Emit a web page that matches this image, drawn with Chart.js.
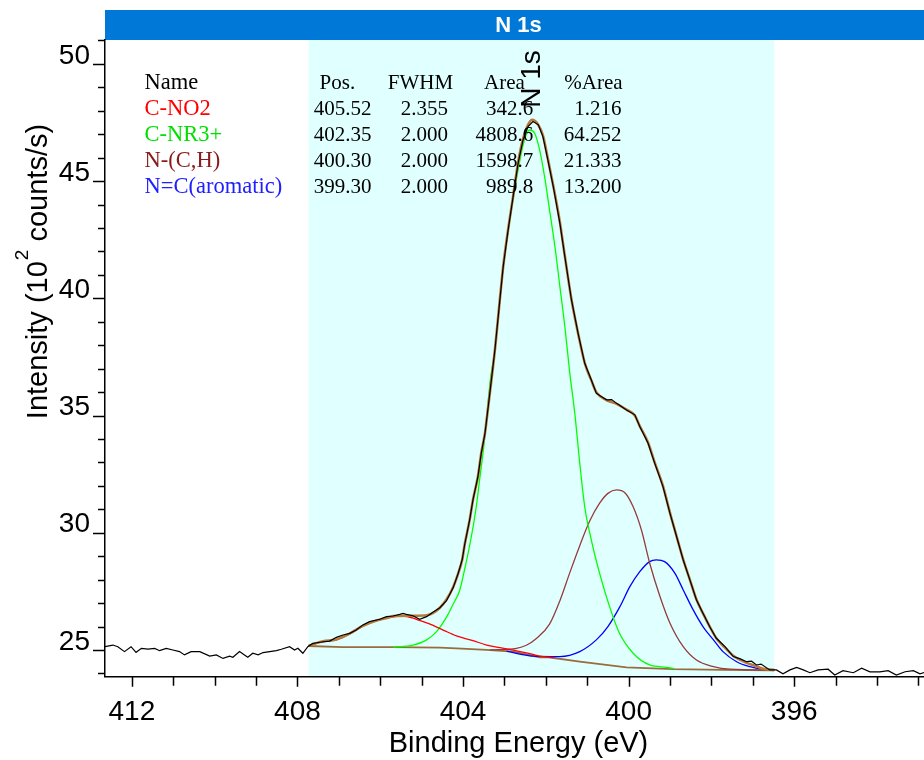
<!DOCTYPE html>
<html>
<head>
<meta charset="utf-8">
<script src="https://cdn.jsdelivr.net/npm/chart.js@4.4.1/dist/chart.umd.min.js"></script>
<style>
  html, body { margin: 0; padding: 0; background: #fff; overflow: hidden; width: 924px; height: 760px; }
  canvas { display: block; }
</style>
</head>
<body>
<canvas id="xps" width="932" height="760"></canvas>
<script>
// ---- N 1s spectrum: measured counts (10^2 counts/s) vs binding energy (eV)
const rawEnergy = [412.65,412.46,412.34,412.18,412.02,411.90,411.77,411.61,411.45,411.33,411.17,411.01,410.85,410.73,410.57,410.36,410.12,409.96,409.80,409.64,409.56,409.40,409.28,409.20,409.08,408.95,408.83,408.67,408.51,408.39,408.19,408.07,407.99,407.87,407.75,407.63,407.46,407.22,407.06,406.90,406.74,406.58,406.42,406.26,406.01,405.85,405.69,405.53,405.45,405.37,405.21,405.05,404.88,404.72,404.56,404.40,404.24,404.12,404.02,403.96,403.84,403.76,403.64,403.56,403.47,403.39,403.23,403.03,402.91,402.79,402.67,402.55,402.43,402.31,402.18,402.07,401.95,401.82,401.66,401.54,401.38,401.22,401.06,400.90,400.78,400.65,400.53,400.41,400.29,400.05,399.85,399.73,399.53,399.37,399.17,399.00,398.84,398.68,398.52,398.36,398.20,398.04,397.88,397.67,397.47,397.30,397.15,397.03,396.91,396.80,396.59,396.43,396.27,396.10,395.94,395.78,395.62,395.42,395.18,395.02,394.82,394.57,394.37,394.17,393.93,393.73,393.53,393.32,393.12,392.96,392.80,392.67];
const rawCounts = [25.14,25.21,25.14,24.93,25.14,24.90,25.07,25.04,25.07,24.97,25.07,25.00,24.93,24.79,24.93,24.93,24.74,24.79,24.64,24.74,24.69,24.93,24.79,24.69,24.86,24.79,24.89,24.93,24.97,25.03,25.14,25.00,25.07,24.86,25.14,25.28,25.33,25.38,25.54,25.64,25.71,25.85,26.07,26.21,26.31,26.42,26.45,26.52,26.56,26.52,26.46,26.31,26.42,26.62,26.80,27.10,27.65,28.25,28.85,29.50,30.55,31.40,32.39,33.39,34.24,35.40,37.80,41.35,42.92,44.34,45.76,46.76,47.33,47.54,47.40,46.90,45.90,44.77,43.20,41.78,39.93,38.51,37.23,36.52,35.95,35.80,35.67,35.68,35.52,35.24,35.03,34.53,33.82,32.97,31.97,30.83,29.83,28.84,27.99,27.13,26.56,25.99,25.50,25.14,24.72,24.62,24.50,24.52,24.36,24.40,24.15,24.15,23.98,24.15,24.26,24.15,24.03,24.15,24.18,23.93,24.12,24.03,24.22,24.07,24.07,24.12,23.93,24.07,24.12,23.98,24.07,24.05];

// fitted envelope
const envEnergy = [407.73,407.38,407.06,406.74,406.42,406.09,405.77,405.69,405.20,404.88,404.72,404.56,404.40,404.24,404.12,404.02,403.96,403.84,403.76,403.64,403.56,403.47,403.39,403.23,403.03,402.91,402.79,402.67,402.55,402.43,402.33,402.20,402.07,401.95,401.82,401.66,401.54,401.38,401.22,401.06,400.90,400.78,400.53,400.29,400.05,399.85,399.73,399.53,399.37,399.17,399.00,398.84,398.68,398.52,398.36,398.20,398.04,397.88,397.67,397.47,397.15,396.91,396.75,396.48];
const envCounts = [25.18,25.37,25.45,25.70,26.03,26.26,26.40,26.45,26.46,26.48,26.58,26.80,27.15,27.68,28.25,28.85,29.50,30.55,31.40,32.40,33.40,34.25,35.40,37.80,41.35,42.95,44.35,45.80,46.80,47.40,47.62,47.45,46.95,45.95,44.80,43.25,41.80,39.95,38.50,37.25,36.50,36.00,35.65,35.50,35.25,35.00,34.55,33.85,33.00,32.00,30.85,29.85,28.85,28.00,27.15,26.55,26.00,25.50,25.10,24.75,24.45,24.30,24.20,24.15];

// Shirley background
const bgEnergy = [407.73,406.90,405.69,404.56,404.16,403.43,402.79,402.15,401.98,401.18,400.05,398.92,397.72,396.48];
const bgCounts = [25.17,25.12,25.12,25.10,25.07,25.00,24.93,24.69,24.70,24.50,24.26,24.18,24.15,24.13];

// component C-NO2
const no2Energy = [407.73,407.38,407.06,406.74,406.42,406.09,405.77,405.45,405.13,404.81,404.48,404.16,403.76,403.43,403.11,402.79,402.47,402.15,401.80];
const no2Counts = [25.19,25.36,25.43,25.68,26.02,26.25,26.39,26.45,26.31,26.11,25.85,25.60,25.40,25.21,25.10,24.99,24.88,24.74,24.68];

// component C-NR3+
const nr3Energy = [405.69,405.21,404.88,404.64,404.40,404.24,404.08,403.96,403.80,403.68,403.60,403.50,403.42,403.34,403.23,403.03,402.79,402.63,402.51,402.39,402.27,402.15,402.03,401.91,401.78,401.66,401.54,401.42,401.30,401.18,401.06,400.90,400.70,400.46,400.22,399.89,399.49,399.08,398.90];
const nr3Counts = [25.12,25.21,25.43,25.78,26.40,26.95,27.55,28.45,29.83,31.11,32.25,33.67,35.10,36.52,37.80,41.30,44.25,45.85,46.80,47.18,47.04,46.33,45.19,43.77,42.21,40.50,38.79,36.80,35.10,32.97,31.11,29.69,28.27,26.85,25.71,24.86,24.36,24.26,24.20];

// component N-(C,H)
const nchEnergy = [403.35,402.71,402.47,402.22,401.91,401.66,401.42,401.18,400.94,400.70,400.50,400.29,400.09,399.89,399.69,399.49,399.24,399.00,398.68,398.36,397.95,397.55,396.48];
const nchCounts = [25.00,25.07,25.20,25.50,26.10,27.10,28.30,29.45,30.50,31.26,31.68,31.83,31.71,31.11,30.12,28.70,27.27,26.14,25.14,24.57,24.29,24.18,24.14];

// component N=C(aromatic)
const ncEnergy = [402.95,402.31,401.66,401.18,400.78,400.50,400.21,399.97,399.73,399.49,399.33,399.13,398.88,398.68,398.44,398.20,397.95,397.72,397.39,397.07,396.75,396.48];
const ncCounts = [24.95,24.74,24.72,24.93,25.43,26.00,26.85,27.70,28.34,28.77,28.84,28.77,28.27,27.56,26.71,25.99,25.43,24.93,24.50,24.29,24.18,24.15];

// fit table
const peakNames = ['C-NO2', 'C-NR3+', 'N-(C,H)', 'N=C(aromatic)'];
const peakPos = [405.52, 402.35, 400.30, 399.30];
const peakFwhm = [2.355, 2.000, 2.000, 2.000];
const peakArea = [342.6, 4808.6, 1598.7, 989.8];
const peakPctArea = [1.216, 64.252, 21.333, 13.200];

// fitting region and axis ranges
const regionStart = 407.73, regionEnd = 396.48;
const xMin = 392.67, xMax = 412.65;
const yMin = 23.86, yMax = 51.02;
const regionTitle = 'N 1s';

const FONT_SANS = "'Liberation Sans', Arial, sans-serif";
const FONT_SERIF = "'Liberation Serif', 'Times New Roman', serif";
const nameColors = ['#ff0000', '#00e000', '#8b1a1a', '#2020ff'];

const zip = (xs, ys) => xs.map((x, i) => ({ x, y: ys[i] }));

const lineSet = (data, color, width, smooth) => ({
  data, borderColor: color, borderWidth: width, pointRadius: 0, fill: false,
  tension: 0, cubicInterpolationMode: smooth ? 'monotone' : 'default'
});

const decor = {
  id: 'decor',
  beforeDraw(chart) {
    const { ctx, chartArea: a, scales: { x } } = chart;
    const x0 = x.getPixelForValue(regionStart), x1 = x.getPixelForValue(regionEnd);
    ctx.save();
    ctx.fillStyle = '#e0ffff';
    ctx.fillRect(Math.min(x0, x1), a.top, Math.abs(x1 - x0), a.bottom - a.top);
    // title bar
    ctx.fillStyle = '#0078d7';
    ctx.fillRect(a.left, 10, a.right - a.left, 30);
    ctx.fillStyle = '#fff';
    ctx.font = `bold 22px ${FONT_SANS}`;
    ctx.textAlign = 'center';
    ctx.textBaseline = 'middle';
    ctx.fillText(regionTitle, (a.left + a.right) / 2, 26);
    ctx.restore();
  },
  afterDraw(chart) {
    const { ctx, chartArea: a, scales: { x, y } } = chart;
    ctx.save();
    ctx.strokeStyle = '#000';
    ctx.lineWidth = 1.5;
    ctx.beginPath();
    y.ticks.forEach(t => {
      const py = Math.round(y.getPixelForValue(t.value)) + 0.5;
      const len = t.value % 5 === 0 ? 12 : 7;
      ctx.moveTo(a.left - len, py); ctx.lineTo(a.left, py);
    });
    x.ticks.forEach(t => {
      const px = Math.round(x.getPixelForValue(t.value)) + 0.5;
      const len = t.value % 4 === 0 ? 10 : 9;
      ctx.moveTo(px, a.bottom); ctx.lineTo(px, a.bottom + len);
    });
    ctx.stroke();

    // y axis title with superscript
    ctx.translate(46.5, 272);
    ctx.rotate(-Math.PI / 2);
    ctx.fillStyle = '#000';
    ctx.textBaseline = 'alphabetic';
    ctx.textAlign = 'left';
    const p1 = 'Intensity (10', p2 = '2', p3 = ' counts/s)';
    ctx.font = `29px ${FONT_SANS}`;
    const w1 = ctx.measureText(p1).width, w3 = ctx.measureText(p3).width;
    ctx.font = `19px ${FONT_SANS}`;
    const w2 = ctx.measureText(p2).width;
    const sx = -(w1 + w2 + w3) / 2;
    ctx.font = `29px ${FONT_SANS}`;
    ctx.fillText(p1, sx, 0);
    ctx.font = `19px ${FONT_SANS}`;
    ctx.fillText(p2, sx + w1 + 1, -19);
    ctx.font = `29px ${FONT_SANS}`;
    ctx.fillText(p3, sx + w1 + w2 + 1, 0);
    ctx.restore();

    // rotated peak label above the envelope maximum
    const iMax = envCounts.indexOf(Math.max(...envCounts));
    ctx.save();
    ctx.translate(x.getPixelForValue(envEnergy[iMax]), y.getPixelForValue(envCounts[iMax]) - 12);
    ctx.rotate(-Math.PI / 2);
    ctx.font = `28px ${FONT_SANS}`;
    ctx.fillStyle = '#000';
    ctx.textAlign = 'left';
    ctx.textBaseline = 'middle';
    ctx.fillText(regionTitle, 0, 0);
    ctx.restore();

    // fit parameter table
    ctx.save();
    ctx.textBaseline = 'middle';
    ctx.fillStyle = '#000';
    const hy = 83, dy = 26;
    const nameFont = `22.5px ${FONT_SERIF}`, numFont = `21px ${FONT_SERIF}`;
    ctx.textAlign = 'left';
    ctx.font = nameFont;
    ctx.fillText('Name', 144.6, hy);
    ctx.font = numFont;
    ctx.fillText('Pos.', 319.6, hy);
    ctx.fillText('Area', 484, hy);
    ctx.fillText('%Area', 564.3, hy);
    ctx.textAlign = 'center';
    ctx.fillText('FWHM', 420.5, hy);
    peakNames.forEach((n, i) => {
      const ry = hy + dy * (i + 1);
      ctx.textAlign = 'left';
      ctx.font = nameFont;
      ctx.fillStyle = nameColors[i];
      ctx.fillText(n, 144.6, ry);
      ctx.font = numFont;
      ctx.fillStyle = '#000';
      ctx.textAlign = 'right';
      ctx.fillText(peakPos[i].toFixed(2), 371.4, ry);
      ctx.fillText(peakArea[i].toFixed(1), 533.2, ry);
      ctx.fillText(peakPctArea[i].toFixed(3), 621.4, ry);
      ctx.textAlign = 'center';
      ctx.fillText(peakFwhm[i].toFixed(3), 424.3, ry);
    });
    ctx.restore();
  }
};

new Chart(document.getElementById('xps'), {
  type: 'line',
  data: {
    datasets: [
      lineSet(zip(rawEnergy, rawCounts), '#000000', 1.2, false),
      lineSet(zip(envEnergy, envCounts), '#b87a3c', 2.6, true),
      lineSet(zip(no2Energy, no2Counts), '#ff0000', 1.3, true),
      lineSet(zip(nr3Energy, nr3Counts), '#00ff00', 1.3, true),
      lineSet(zip(nchEnergy, nchCounts), '#963c3c', 1.3, true),
      lineSet(zip(ncEnergy, ncCounts), '#0000ff', 1.3, true),
      lineSet(zip(bgEnergy, bgCounts), '#9c6b3c', 1.8, false)
    ]
  },
  options: {
    responsive: false,
    animation: false,
    events: [],
    layout: { padding: { top: 40, left: 0, right: 0, bottom: 0 } },
    plugins: { legend: { display: false }, tooltip: { enabled: false } },
    scales: {
      x: {
        type: 'linear', reverse: true, min: xMin, max: xMax,
        afterFit(s) { s.height = 83.3; },
        border: { display: true, color: '#000', width: 1.5 },
        grid: { display: true, drawOnChartArea: false, drawTicks: true, tickLength: 9, color: 'rgba(0,0,0,0)' },
        ticks: {
          stepSize: 1, includeBounds: false, autoSkip: false, maxRotation: 0, minRotation: 0,
          padding: 10, color: '#000', font: { family: FONT_SANS, size: 28 },
          callback: v => (v % 4 === 0 ? String(v) : '')
        },
        title: {
          display: true, text: 'Binding Energy (eV)', color: '#000',
          font: { family: FONT_SANS, size: 29 }, padding: { top: 0, bottom: -1 }
        }
      },
      y: {
        type: 'linear', min: yMin, max: yMax,
        afterFit(s) { s.width = 105; },
        border: { display: true, color: '#000', width: 1.5 },
        grid: { display: true, drawOnChartArea: false, drawTicks: true, tickLength: 12, color: 'rgba(0,0,0,0)' },
        ticks: {
          stepSize: 1, includeBounds: false, autoSkip: false, padding: 3, labelOffset: -8,
          color: '#000', font: { family: FONT_SANS, size: 28 },
          callback: v => (v % 5 === 0 ? String(v) : '')
        }
      }
    }
  },
  plugins: [decor]
});
</script>
</body>
</html>
